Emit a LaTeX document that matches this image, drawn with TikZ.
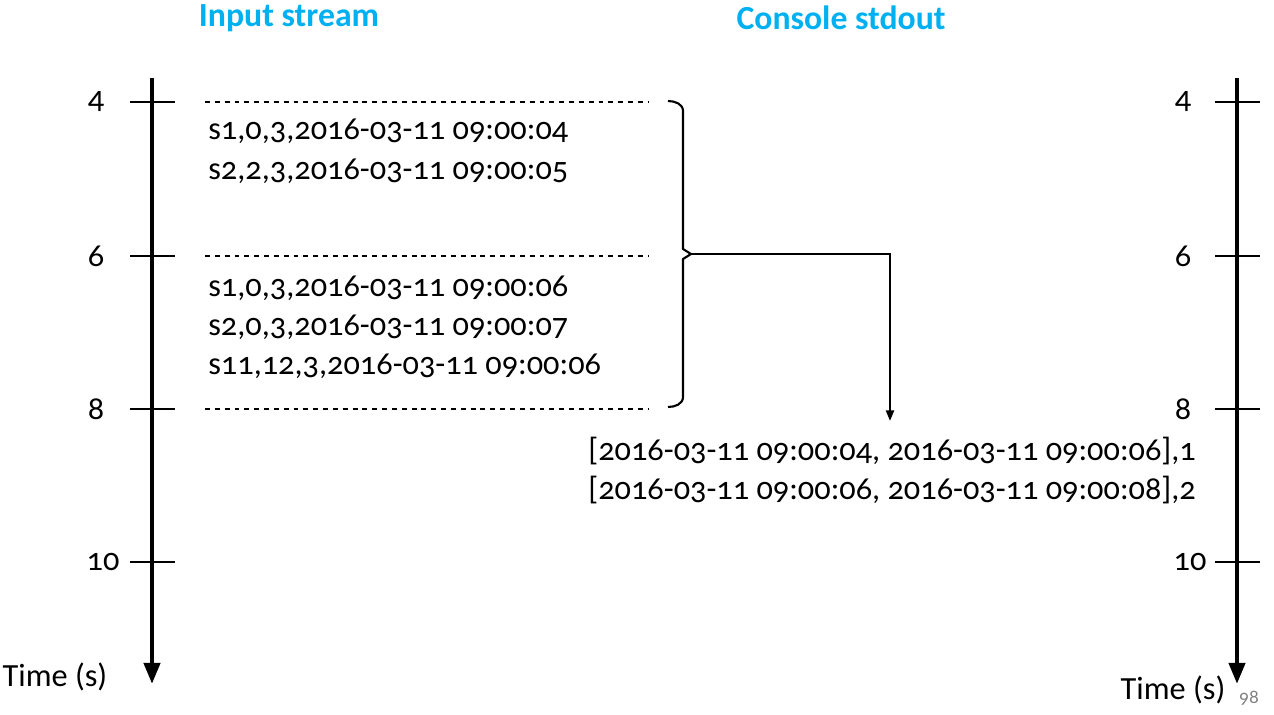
\documentclass[tikz,border=0pt]{standalone}
\usepackage{fontspec}
\setmainfont{Carlito}[Numbers=OldStyle]
\usetikzlibrary{arrows.meta}
\definecolor{headblue}{HTML}{00B0F0}

\begin{document}
\begin{tikzpicture}[x=0.02cm, y=-0.02cm,
  axis/.style={line width=2.6pt, -{Triangle[length=12pt, width=9pt]}},
  tick/.style={line width=1.3pt},
  slot/.style={line width=0.7pt, dash pattern=on 2.8pt off 2.8pt},
  txt/.style={font=\fontsize{18.4}{22}\selectfont, inner sep=0pt},
  head/.style={font=\fontsize{19.2}{23}\selectfont\bfseries, text=headblue},
  flow/.style={line width=1.2pt, -{Triangle[length=6pt, width=4.5pt]}}]
\useasboundingbox (0,0) rectangle (1274,714);

% headers
\node [head] (inhead) at (289,18) {Input stream};
\node [head] (outhead) at (841,18) {Console stdout};

% time axes
\coordinate (ltop) at (152,78);
\coordinate (lend) at (152,684);
\coordinate (rtop) at (1237,78);
\coordinate (rend) at (1237,684);
\draw [axis] (ltop) -- (lend);
\draw [axis] (rtop) -- (rend);
\foreach \t/\y/\dx in {4/102/0, 6/256/0, 8/409/0, 10/562/7} {
  \draw [tick] (130,\y) -- (175,\y);
  \draw [tick] (1215,\y) -- (1260,\y);
  \node [txt] (l\t) at (96+\dx,\y) {\t};
  \node [txt] (r\t) at (1183+\dx,\y) {\t};
}
\node [txt] (ltime) at (55,677) {Time (s)};
\node [txt] (rtime) at (1173,690) {Time (s)};
\node [font=\fontsize{11}{13}\selectfont, text=gray] (page) at (1249,698) {98};

% window borders
\foreach \y in {102, 256, 409}
  \draw [slot] (205,\y) -- (648,\y);

% input records
\node [txt, anchor=west] (in1) at (208,131) {s1,0,3,2016-03-11 09:00:04};
\node [txt, anchor=west] (in2) at (208,171) {s2,2,3,2016-03-11 09:00:05};
\node [txt, anchor=west] (in3) at (208,288) {s1,0,3,2016-03-11 09:00:06};
\node [txt, anchor=west] (in4) at (208,327) {s2,0,3,2016-03-11 09:00:07};
\node [txt, anchor=west] (in5) at (208,366) {s11,12,3,2016-03-11 09:00:06};

% brace
\coordinate (tip) at (691,254);
\draw [line width=1.2pt, line join=round]
  (668,101) to[out=0, in=90] (683,111) -- (683,249) -- (tip)
  -- (683,259) -- (683,397) to[out=-90, in=0] (668,407);

% output
\coordinate (drop) at (890,421);
\draw [flow] (tip) -| (drop);
\node [txt] (out1) at (892,451) {[2016-03-11 09:00:04, 2016-03-11 09:00:06],1};
\node [txt] (out2) at (892,490) {[2016-03-11 09:00:06, 2016-03-11 09:00:08],2};
\end{tikzpicture}
\end{document}
